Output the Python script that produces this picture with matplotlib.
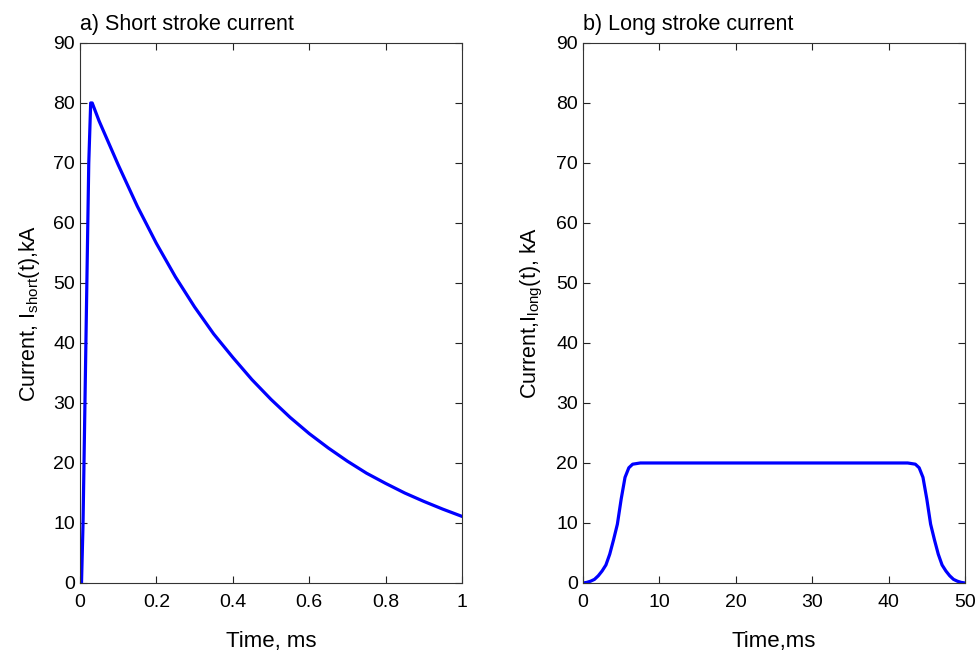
import numpy as np
import matplotlib.pyplot as plt

plt.rcParams['font.family'] = ['Liberation Sans', 'DejaVu Sans']
plt.rcParams['mathtext.default'] = 'regular'

# short stroke, time in ms, current in kA
t_short = [0.0, 0.004, 0.008, 0.013, 0.018, 0.023, 0.028, 0.032, 0.05, 0.1, 0.15, 0.2, 0.25,
           0.3, 0.35, 0.4, 0.45, 0.5, 0.55, 0.6, 0.65, 0.7, 0.75, 0.8, 0.85,
           0.9, 0.95, 1.0]
i_short = [0, 0, 10, 30, 50, 70, 80, 80, 77.0, 69.7, 62.8, 56.6, 51.0,
           46.0, 41.5, 37.6, 33.9, 30.6, 27.6, 24.9, 22.5, 20.3, 18.3, 16.6, 15.0,
           13.6, 12.3, 11.1]

# long stroke
t_long = [0, 0.5, 1, 1.5, 2, 2.5, 3, 3.5, 4, 4.5, 5, 5.5, 6, 6.5, 7, 7.5, 8,
          42, 42.5, 43, 43.5, 44, 44.5, 45, 45.5, 46, 46.5, 47, 47.5, 48, 48.5, 49, 49.5, 50]
i_long = [0, 0.1, 0.3, 0.6, 1.2, 2.0, 3.0, 4.8, 7.2, 9.8, 14.0, 17.6, 19.2, 19.8, 19.9, 20, 20,
          20, 20, 19.9, 19.8, 19.2, 17.6, 14.0, 9.8, 7.2, 4.8, 3.0, 2.0, 1.2, 0.6, 0.3, 0.1, 0]

fig = plt.figure(figsize=(9.79, 6.5), dpi=100)
ax1 = fig.add_axes([0.0817, 0.1031, 0.3902, 0.8308])
ax2 = fig.add_axes([0.5955, 0.1031, 0.3902, 0.8308])

ax1.plot(t_short, i_short, color='#0000ff', lw=2.3)
ax2.plot(t_long, i_long, color='#0000ff', lw=2.3)

ax1.set_xlim(0, 1)
ax1.set_xticks([0, 0.2, 0.4, 0.6, 0.8, 1])
ax1.set_xticklabels(['0', '0.2', '0.4', '0.6', '0.8', '1'])
ax2.set_xlim(0, 50)
ax2.set_xticks([0, 10, 20, 30, 40, 50])

for ax in (ax1, ax2):
    ax.set_ylim(0, 90)
    ax.set_yticks(range(0, 91, 10))
    ax.tick_params(direction='in', top=True, right=True, length=5, width=0.8,
                   labelsize=14, colors='#222222', labelcolor='black')
    ax.tick_params(axis='x', pad=8)
    for s in ax.spines.values():
        s.set_color('#333333')
        s.set_linewidth(0.8)

ax1.set_title('a) Short stroke current', loc='left', fontsize=15.5, pad=9)
ax2.set_title('b) Long stroke current', loc='left', fontsize=15.5, pad=9)
ax1.set_xlabel('Time, ms', fontsize=16, labelpad=14)
ax2.set_xlabel('Time,ms', fontsize=16, labelpad=14)
ax1.set_ylabel('Current, I$_{short}$(t),kA', fontsize=15.5, labelpad=8)
ax2.set_ylabel('Current,I$_{long}$(t), kA', fontsize=15.5, labelpad=8)

fig.savefig('out.png', dpi=100)
